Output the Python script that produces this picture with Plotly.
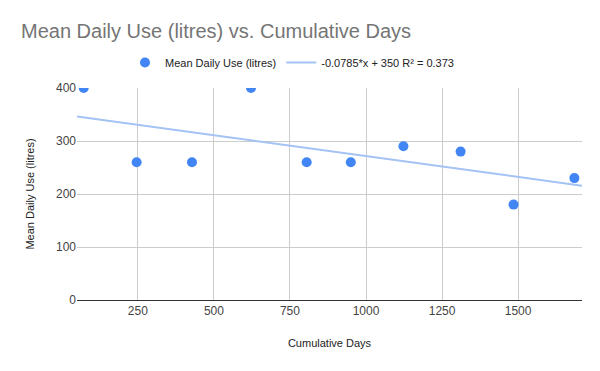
import plotly.graph_objects as go

cumulative_days = [72, 246, 428, 622, 805, 950, 1123, 1311, 1485, 1685]
mean_daily_use = [400, 260, 260, 400, 260, 260, 290, 280, 180, 230]
trend_slope = -0.0785
trend_intercept = 350
trend_r2 = 0.373
x_range = [50, 1710]
x_ticks = [250, 500, 750, 1000, 1250, 1500]
y_ticks = [0, 100, 200, 300, 400]

trend_x = x_range
trend_y = [trend_slope * v + trend_intercept for v in trend_x]

fig = go.Figure()
fig.add_trace(go.Scatter(
    x=cumulative_days, y=mean_daily_use, mode="markers",
    name="Mean Daily Use (litres)",
    marker=dict(color="#4285F4", size=10),
))
fig.add_trace(go.Scatter(
    x=trend_x, y=trend_y, mode="lines",
    name=f"{trend_slope}*x + {trend_intercept} R² = {trend_r2}",
    line=dict(color="#A4C2F4", width=2),
))

fig.update_layout(
    width=600, height=371,
    margin=dict(l=77, r=18, t=88, b=71, autoexpand=False),
    paper_bgcolor="white", plot_bgcolor="white",
    font=dict(family="Arial, Liberation Sans, sans-serif", size=11, color="#222222"),
    title=dict(text="Mean Daily Use (litres) vs. Cumulative Days",
               x=21 / 600, xref="container", xanchor="left",
               y=1 - 31 / 371, yref="container", yanchor="middle",
               font=dict(size=20, color="#757575"),
               pad=dict(l=0, t=0, b=0, r=0)),
    legend=dict(orientation="h", x=(292 - 77) / 505, xanchor="center",
                y=(300 - 62.5) / 212, yanchor="middle",
                font=dict(size=11, color="#222222"), itemwidth=30),
    xaxis=dict(range=x_range, tickvals=x_ticks, showgrid=True, gridcolor="#cccccc",
               showline=True, linecolor="#333333", linewidth=1, zeroline=False,
               ticks="", tickfont=dict(size=12, color="#444444"),
               title=dict(text="Cumulative Days", font=dict(size=11, color="#222222"), standoff=21)),
    yaxis=dict(range=[0, 400], tickvals=y_ticks, showgrid=True, gridcolor="#cccccc",
               zeroline=False, showline=False, ticks="",
               tickfont=dict(size=12, color="#444444"),
               title=dict(text="Mean Daily Use (litres)", font=dict(size=11, color="#222222"), standoff=19)),
)
fig.write_html("out.html", config={"displayModeBar": False},
               post_script="document.body.style.margin='0';")
